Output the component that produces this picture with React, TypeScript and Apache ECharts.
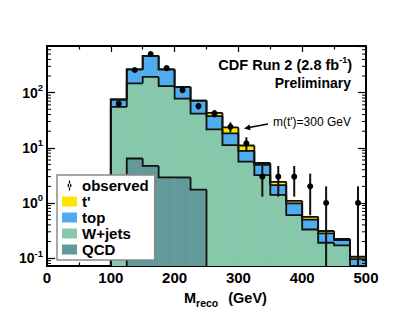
import React, { useEffect, useRef } from "react";
import * as echarts from "echarts";

// ---- data (events per 25 GeV bin) ----
const binEdges = [100, 125, 150, 175, 200, 225, 250, 275, 300, 325, 350, 375, 400, 425, 450, 475, 500];
const qcd = [0, 6.4, 4.7, 2.9, 2.9, 1.75, 0, 0, 0, 0, 0, 0, 0, 0, 0, 0];
const wjets = [55, 141, 188, 128, 75, 40, 21.5, 11.2, 5.6, 3.2, 1.4, 0.6, 0.33, 0.19, 0.17, 0.068];
const topQuark = [20, 116, 271, 132, 49, 30, 16, 7, 3.2, 1.7, 0.7, 0.38, 0.17, 0.09, 0.042, 0.028];
const tprime = [0, 0, 0, 0, 0, 0, 5.5, 5.2, 2.2, 0.4, 0.32, 0.11, 0.06, 0.03, 0.01, 0.01];
const observed = [63, 257, 500, 278, 111, 57, 42, 24, 12, 3, 3, 3, 2, 1, 0, 1];
const observedErr = [8, 16, 22, 17, 10.5, 7.5, 6.5, 4.9, 3.5, 1.7, 1.7, 1.7, 1.4, 1, 0, 1];
const yTickLabels = ["10", "10", "10", "10"]; // mantissa of 10^-1 .. 10^2
const logMinorTicks = [0.08, 0.09, 0.2, 0.3, 0.4, 0.5, 0.6, 0.7, 0.8, 0.9, 2, 3, 4, 5, 6, 7, 8, 9, 20, 30, 40, 50, 60, 70, 80, 90, 200, 300, 400, 500, 600];

const Y_MIN = 0.072;
const Y_MAX = 700;
const FONT = "'Liberation Sans', Arial, Helvetica, sans-serif";

const C_TPRIME = "#FFE500";
const C_TOP = "#50ABEF";
const C_WJETS = "#88C8AA";
const C_QCD = "#62999A";

function cumulative(...layers: number[][]): number[] {
  return layers[0].map((_, i) => layers.reduce((s, l) => s + l[i], 0));
}

export default function App() {
  const ref = useRef<HTMLDivElement>(null);
  useEffect(() => {
    if (!ref.current) return;
    const chart = echarts.init(ref.current, undefined, { renderer: "svg" });

    const cQcd = qcd.slice();
    const cGreen = cumulative(qcd, wjets);
    const cBlue = cumulative(qcd, wjets, topQuark);
    const cYellow = cumulative(qcd, wjets, topQuark, tprime);

    const clampV = (v: number) => (v > Y_MIN ? v : Y_MIN);

    const layer = (name: string, color: string, tops: number[]) => ({
      type: "custom",
      name,
      coordinateSystem: "cartesian2d",
      clip: true,
      z: 2,
      itemStyle: { color, borderWidth: 0 },
      data: tops.map((v, i) => [binEdges[i], binEdges[i + 1], v, i]),
      renderItem: (params: any, api: any) => {
        const i = api.value(3);
        const x0 = api.value(0);
        const x1 = api.value(1);
        const raw = api.value(2);
        if (!(raw > 0)) return { type: "group", children: [] };
        const v = clampV(raw);
        const prev = i > 0 ? clampV(tops[i - 1]) : Y_MIN;
        const nextRaw = i < tops.length - 1 ? tops[i + 1] : 0;
        const pTL = api.coord([x0, v]);
        const pBR = api.coord([x1, Y_MIN]);
        const pPrev = api.coord([x0, prev]);
        const children: any[] = [
          {
            type: "rect",
            z2: 1,
            shape: { x: pTL[0], y: pTL[1], width: pBR[0] - pTL[0], height: pBR[1] - pTL[1] },
            style: { fill: color },
          },
          {
            type: "polyline",
            z2: 10,
            shape: { points: [[pTL[0], pPrev[1]], [pTL[0], pTL[1]], [pBR[0], pTL[1]]] },
            style: { stroke: "#111", lineWidth: 1.8, fill: "none" },
          },
        ];
        if (!(nextRaw > 0)) {
          children.push({
            type: "line",
            z2: 10,
            shape: { x1: pBR[0], y1: pTL[1], x2: pBR[0], y2: pBR[1] },
            style: { stroke: "#111", lineWidth: 1.8 },
          });
        }
        return { type: "group", children };
      },
    });

    const obsSeries = {
      type: "custom",
      name: "observed",
      coordinateSystem: "cartesian2d",
      clip: true,
      z: 5,
      itemStyle: { color: "#000", borderWidth: 0 },
      data: observed.map((v, i) => [(binEdges[i] + binEdges[i + 1]) / 2, v, observedErr[i]]),
      renderItem: (params: any, api: any) => {
        const x = api.value(0);
        const v = api.value(1);
        const e = api.value(2);
        if (!(v > 0)) return { type: "group", children: [] };
        const p = api.coord([x, v]);
        const pHi = api.coord([x, v + e]);
        const pLo = api.coord([x, clampV(v - e)]);
        return {
          type: "group",
          children: [
            { type: "line", shape: { x1: p[0], y1: pHi[1], x2: p[0], y2: pLo[1] }, style: { stroke: "#111", lineWidth: 2 } },
            { type: "circle", shape: { cx: p[0], cy: p[1], r: 3 }, style: { fill: "#000" } },
          ],
        };
      },
    };

    const minorTickSeries = {
      type: "custom",
      name: "minorTicks",
      coordinateSystem: "cartesian2d",
      clip: false,
      z: 6,
      silent: true,
      data: logMinorTicks.map((v) => [0, v]),
      renderItem: (params: any, api: any) => {
        const v = api.value(1);
        const pl = api.coord([0, v]);
        const pr = api.coord([500, v]);
        return {
          type: "group",
          children: [
            { type: "line", shape: { x1: pl[0], y1: pl[1], x2: pl[0] + 4, y2: pl[1] }, style: { stroke: "#000", lineWidth: 1 } },
            { type: "line", shape: { x1: pr[0] - 4, y1: pr[1], x2: pr[0], y2: pr[1] }, style: { stroke: "#000", lineWidth: 1 } },
          ],
        };
      },
    };

    const yLabelFormatter = (value: number) => {
      const lg = Math.log10(value);
      const r = Math.round(lg);
      if (Math.abs(lg - r) > 1e-6) return "";
      const idx = r + 1;
      const mant = yTickLabels[idx] ?? "10";
      return "{b|" + mant + "}{s|" + r + "}";
    };

    const axisLineStyle = { color: "#000", width: 2 };

    const xAxisBase = {
      type: "value",
      min: 0,
      max: 500,
      interval: 100,
      axisLine: { show: true, onZero: false, lineStyle: axisLineStyle },
      axisTick: { show: true, inside: true, length: 6, lineStyle: { color: "#000", width: 1.2 } },
      minorTick: { show: true, splitNumber: 2, length: 3.5, lineStyle: { color: "#000", width: 1.2 } },
      splitLine: { show: false },
      minorSplitLine: { show: false },
    };
    const yAxisBase = {
      type: "log",
      logBase: 10,
      min: Y_MIN,
      max: Y_MAX,
      axisLine: { show: true, onZero: false, lineStyle: axisLineStyle },
      axisTick: { show: true, inside: true, length: 8, lineStyle: { color: "#000", width: 1.2 } },
      minorTick: { show: false },
      splitLine: { show: false },
      minorSplitLine: { show: false },
    };

    chart.setOption({
      animation: false,
      backgroundColor: "#fff",
      grid: { left: 47, right: 35, top: 46, bottom: 63, containLabel: false },
      xAxis: [
        {
          ...xAxisBase,
          position: "bottom",
          axisLabel: { show: true, margin: 4, color: "#000", fontFamily: FONT, fontWeight: "bold", fontSize: 15 },
        },
        { ...xAxisBase, position: "top", axisLabel: { show: false } },
      ],
      yAxis: [
        {
          ...yAxisBase,
          position: "left",
          axisLabel: {
            show: true,
            margin: 4,
            showMinLabel: false,
            showMaxLabel: false,
            formatter: yLabelFormatter,
            rich: {
              b: { fontFamily: FONT, fontWeight: "bold", fontSize: 14, lineHeight: 20, color: "#000" },
              s: { fontFamily: FONT, fontWeight: "bold", fontSize: 9.5, lineHeight: 10, verticalAlign: "top", color: "#000" },
            },
          },
        },
        { ...yAxisBase, position: "right", axisLabel: { show: false } },
      ],
      legend: {
        orient: "vertical",
        left: 57,
        top: 175,
        backgroundColor: "#fff",
        borderColor: "#8a8a8a",
        borderWidth: 1.5,
        padding: [3, 6, 3, 5],
        itemWidth: 15,
        itemHeight: 10,
        itemGap: 1,
        selectedMode: false,
        textStyle: { fontFamily: FONT, fontWeight: "bold", fontSize: 15, color: "#000", lineHeight: 15 },
        data: [
          { name: "observed", icon: "path://M3.6,0L6.4,0L6.4,24L3.6,24Z M0,12A5,5,0,1,0,10,12A5,5,0,1,0,0,12Z" },
          { name: "t'", icon: "rect" },
          { name: "top", icon: "rect" },
          { name: "W+jets", icon: "rect" },
          { name: "QCD", icon: "rect" },
        ],
      },
      graphic: [
        {
          type: "text",
          x: 352,
          y: 65,
          style: {
            text: "{a|CDF Run 2 (2.8 fb}{s|-1}{a|)}",
            align: "right",
            verticalAlign: "middle",
            rich: {
              a: { fontFamily: FONT, fontWeight: "bold", fontSize: 14.5, lineHeight: 20, fill: "#000" },
              s: { fontFamily: FONT, fontWeight: "bold", fontSize: 9, lineHeight: 10, verticalAlign: "top", fill: "#000" },
            },
          },
        },
        {
          type: "text",
          x: 351,
          y: 83,
          style: {
            text: "Preliminary",
            align: "right",
            verticalAlign: "middle",
            font: "bold 14px " + FONT,
            fill: "#000",
          },
        },
        {
          type: "text",
          x: 273,
          y: 122,
          style: {
            text: "m(t')=300 GeV",
            align: "left",
            verticalAlign: "middle",
            font: "12px " + FONT,
            fill: "#000",
          },
        },
        {
          type: "line",
          shape: { x1: 268, y1: 124, x2: 249, y2: 127.5 },
          style: { stroke: "#000", lineWidth: 1.5 },
        },
        {
          type: "polygon",
          shape: { points: [[244, 128.4], [250.6, 130.3], [249.6, 124.5]] },
          style: { fill: "#000" },
        },
        {
          type: "text",
          x: 184,
          y: 298,
          style: {
            text: "{m|M}{r|reco}{g|(GeV)}",
            align: "left",
            verticalAlign: "middle",
            rich: {
              m: { fontFamily: FONT, fontWeight: "bold", fontSize: 14.5, lineHeight: 20, fill: "#000" },
              r: { fontFamily: FONT, fontWeight: "bold", fontSize: 10.5, lineHeight: 10, verticalAlign: "bottom", fill: "#000" },
              g: { fontFamily: FONT, fontWeight: "bold", fontSize: 14.5, lineHeight: 20, fill: "#000", padding: [0, 0, 0, 10] },
            },
          },
        },
      ],
      series: [
        layer("t'", C_TPRIME, cYellow),
        layer("top", C_TOP, cBlue),
        layer("W+jets", C_WJETS, cGreen),
        layer("QCD", C_QCD, cQcd),
        obsSeries,
        minorTickSeries,
      ],
    });
    return () => chart.dispose();
  }, []);

  return (
    <div
      ref={ref}
      style={{ position: "fixed", left: 0, top: 0, width: 401, height: 329, background: "#fff" }}
    />
  );
}
